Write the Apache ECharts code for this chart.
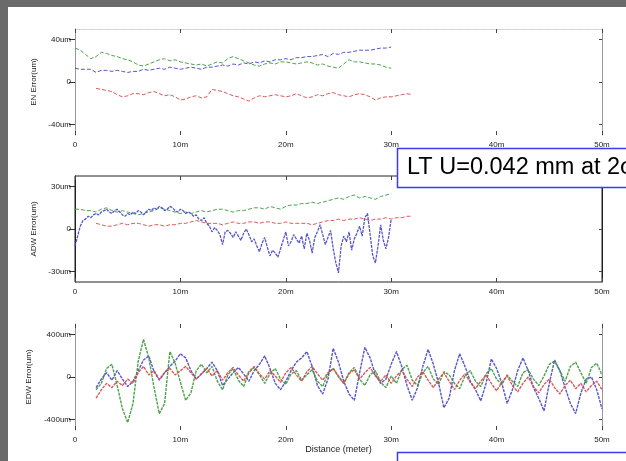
<!DOCTYPE html>
<html><head><meta charset="utf-8">
<script src="https://cdn.jsdelivr.net/npm/echarts@6/dist/echarts.min.js"></script>
<style>html,body{margin:0;padding:0;background:#fff}#c{width:626px;height:461px}</style>
</head><body><div id="c"></div>
<script>
// ---- data ----
const xTickLabels = ['0', '10m', '20m', '30m', '40m', '50m'];
const panelNames = ['EN Error(um)', 'ADW Error(um)', 'EDW Error(um)'];
const xAxisTitle = 'Distance (meter)';
const noteText = 'LT U=0.042 mm at 2\u03c3';

// Panel 1 (EN), sampled every 0.5 m
const enBlueStart = 0, enGreenStart = 0, enRedStart = 2, enStep = 0.5;
const enBlue = [13,12,12,12,9,11,11,10,11,10,9,10,10,12,11,12,13,12,14,13,12,13,14,13,12,14,14,15,16,15,17,16,18,17,19,18,20,19,21,21,22,21,23,23,24,24,25,26,24,27,26,28,28,29,30,30,30,31,32,32,33];
const enGreen = [32,30,26,22,24,28,27,25,24,22,21,19,16,15,17,19,21,22,20,21,19,18,17,16,17,15,17,19,18,22,24,22,20,18,16,15,17,18,17,19,19,18,17,18,19,18,16,17,15,14,13,17,21,19,19,18,17,17,16,14,13];
const enRed = [-6,-7,-8,-9,-12,-14,-13,-11,-11,-12,-10,-9,-11,-13,-12,-14,-17,-16,-14,-13,-15,-14,-7,-8,-9,-11,-13,-14,-16,-18,-15,-13,-14,-13,-12,-13,-14,-13,-11,-13,-15,-14,-12,-13,-11,-10,-12,-13,-14,-12,-11,-12,-14,-17,-15,-14,-14,-13,-12,-11,-12];

// Panel 2 (ADW)
const adwBlueStart = 0, adwBlueStep = 0.25;
const adwBlue = [-12,-5,2,6,7,9,8,10,11,10,12,13,14,12,11,13,14,12,10,9,11,10,12,11,13,12,10,12,14,13,15,14,16,15,13,14,16,15,13,12,14,13,11,12,11,9,10,7,6,8,4,2,-2,1,-1,-4,-11,-2,-1,-3,-6,-2,-5,-8,-3,0,-4,-9,-7,-12,-16,-10,-6,-13,-19,-15,-17,-20,-14,-8,-2,-12,-9,-4,-7,-10,-5,-14,-3,-8,-17,-6,-2,3,-4,-11,-6,-1,-14,-24,-31,-12,-5,-9,-2,-15,-7,-3,2,-5,8,11,-4,-19,-24,-12,3,-8,-14,-6,7];
const adwGreenStart = 0, adwRedStart = 2, adwStep = 0.5;
const adwGreen = [14,14,13,13,12,14,15,13,12,13,12,11,10,11,12,13,15,14,13,12,11,12,11,12,13,12,13,14,14,13,12,13,13,14,15,15,14,16,15,14,16,17,17,18,18,19,18,19,20,21,22,21,23,24,22,23,22,21,23,24,25];
const adwRed = [4,3,2,2,3,4,3,4,4,3,2,3,3,2,3,3,4,4,5,6,5,4,4,4,3,4,5,4,4,5,5,4,5,5,4,4,5,4,4,4,4,3,4,5,6,6,7,6,7,7,8,7,6,7,7,8,7,8,8,9,9];

// Panel 3 (EDW), sampled every 0.5 m from 2 m
const edwStart = 2, edwStep = 0.5;
const edwGreen = [-120,-60,80,120,-80,-300,-430,-250,150,355,180,-100,-345,-250,240,130,-50,-220,-150,60,120,40,100,-40,-120,20,80,-30,-90,40,90,20,-60,30,80,-20,-70,30,60,-30,20,70,-40,-90,30,80,10,-60,40,90,-20,-80,20,60,-50,-100,10,-60,70,110,-30,-80,40,100,-20,-70,50,20,-60,-110,10,60,-40,-90,30,80,-20,-70,20,-40,-90,40,70,-20,-80,10,120,150,60,-40,100,140,40,-60,90,130,20];
const edwBlue = [-100,-20,40,-30,60,-20,-90,-40,60,160,200,50,-30,40,100,150,220,180,60,-20,30,80,140,60,-80,-20,40,90,30,-40,60,120,200,80,-60,-120,-40,60,140,180,240,100,-80,-160,-20,270,140,-40,-160,-220,40,280,180,20,-60,-20,120,240,100,-80,-220,-100,100,260,120,-60,-290,-200,60,220,100,-40,-120,-225,-60,170,80,-60,-250,-120,60,180,60,-100,-200,-320,-60,160,60,-100,-250,-345,-150,-20,0,-120,-300];
const edwRed = [-200,-120,-60,-100,-40,-80,-20,-60,40,100,20,60,-20,40,80,20,60,100,40,-20,30,80,10,60,-30,40,90,20,-40,50,100,30,-20,60,10,-50,40,90,20,-40,50,100,30,-30,40,80,0,-60,30,70,-20,40,90,10,-40,20,-60,10,60,-20,-90,0,50,-30,-100,-20,40,-40,-120,-30,30,-50,-110,-40,20,-60,-130,-50,10,-80,-140,-60,0,-90,-150,-70,-20,-100,-160,-80,-30,-110,-60,-140,-80,-40,-120];

// panel axis settings
const yRanges = [[-50, 50], [-37.5, 37.5], [-500, 500]];
const yTickVals = [[-40, 0, 40], [-30, 0, 30], [-400, 0, 400]];
const yTickLabels = [['-40um', '0', '40um'], ['-30um', '0', '30um'], ['-400um', '0', '400um']];

const C_BLUE = '#4444c8', C_GREEN = '#3a983a', C_RED = '#d44848';

function pairs(start, step, vals) { return vals.map((v, i) => [start + i * step, v]); }

const tops = [29, 176, 324];
const grids = tops.map((t, i) => ({
  left: 75, right: 24, top: t, height: 106,
  show: i === 1, borderColor: '#222', borderWidth: 1, backgroundColor: 'transparent'
}));

const labelFont = { fontSize: 8, color: '#222', fontFamily: 'Liberation Sans' };
const xAxes = [], yAxes = [];
tops.forEach((t, i) => {
  xAxes.push({
    type: 'value', gridIndex: i, min: 0, max: 50, interval: 10, position: 'bottom',
    axisLine: { show: false, onZero: false },
    axisTick: { show: true, inside: true, length: 4, lineStyle: { color: '#444' } },
    axisLabel: Object.assign({ margin: 6, formatter: (v) => xTickLabels[Math.round(v / 10)] }, labelFont),
    splitLine: { show: false },
    name: i === 2 ? xAxisTitle : '', nameLocation: 'middle', nameGap: 14,
    nameTextStyle: { fontSize: 9, color: '#222', fontFamily: 'Liberation Sans' }
  });
  xAxes.push({
    type: 'value', gridIndex: i, min: 0, max: 50, interval: 10, position: 'top',
    axisLine: { show: i === 0, onZero: false, lineStyle: { color: '#ccc', type: 'dotted' } },
    axisTick: { show: true, inside: true, length: 4, lineStyle: { color: '#444' } },
    axisLabel: { show: false }, splitLine: { show: false }
  });
  const tv = yTickVals[i], tl = yTickLabels[i];
  yAxes.push({
    type: 'value', gridIndex: i, min: yRanges[i][0], max: yRanges[i][1], position: 'left',
    axisLine: { show: true, onZero: false, lineStyle: { color: i === 1 ? '#222' : '#999', width: 1 } },
    axisTick: { show: true, inside: false, length: 6, customValues: tv, lineStyle: { color: '#333' } },
    axisLabel: Object.assign({ margin: 4, customValues: tv, formatter: (v) => tl[tv.indexOf(v)] }, labelFont),
    splitLine: { show: false },
    name: panelNames[i], nameLocation: 'middle', nameGap: 35, nameRotate: 90,
    nameTextStyle: { fontSize: 8, color: '#222', fontFamily: 'Liberation Sans' }
  });
  yAxes.push({
    type: 'value', gridIndex: i, min: yRanges[i][0], max: yRanges[i][1], position: 'right',
    axisLine: { show: true, onZero: false, lineStyle: { color: i === 1 ? '#222' : '#999', width: 1 } },
    axisTick: { show: true, inside: true, length: 3, customValues: tv, lineStyle: { color: '#444' } },
    axisLabel: { show: false }, splitLine: { show: false }
  });
});

function line(gi, color, data, dash, w) {
  return {
    type: 'line', xAxisIndex: gi * 2, yAxisIndex: gi * 2, data: data,
    showSymbol: false, silent: true, animation: false,
    lineStyle: { color: color, width: w || 1, type: dash || [4, 2], opacity: 0.9 }
  };
}

const series = [
  line(0, C_GREEN, pairs(enGreenStart, enStep, enGreen)),
  line(0, C_BLUE, pairs(enBlueStart, enStep, enBlue)),
  line(0, C_RED, pairs(enRedStart, enStep, enRed)),
  line(1, C_GREEN, pairs(adwGreenStart, adwStep, adwGreen)),
  line(1, C_RED, pairs(adwRedStart, adwStep, adwRed)),
  line(1, C_BLUE, pairs(adwBlueStart, adwBlueStep, adwBlue), [3, 1], 1.3),
  line(2, C_BLUE, pairs(edwStart, edwStep, edwBlue), [3, 1], 1.4),
  line(2, C_GREEN, pairs(edwStart, edwStep, edwGreen), [3, 1], 1.4),
  line(2, C_RED, pairs(edwStart, edwStep, edwRed), [3, 1], 1.4)
];

const chart = echarts.init(document.getElementById('c'), null, { renderer: 'canvas' });
chart.setOption({
  animation: false,
  backgroundColor: '#ffffff',
  grid: grids, xAxis: xAxes, yAxis: yAxes, series: series,
  graphic: [
    { type: 'rect', z: 200, shape: { x: 0, y: 0, width: 626, height: 7 }, style: { fill: '#6a6a6a' } },
    { type: 'rect', z: 200, shape: { x: 0, y: 0, width: 8, height: 461 }, style: { fill: '#6a6a6a' } },
    { type: 'rect', z: 210, shape: { x: 397.5, y: 148.5, width: 260, height: 39 }, style: { fill: '#fff', stroke: '#3a3af5', lineWidth: 1.5 } },
    { type: 'text', z: 211, x: 407, y: 168, style: { text: noteText, fill: '#000', font: '23.5px "Liberation Sans"', verticalAlign: 'middle' } },
    { type: 'rect', z: 210, shape: { x: 397.5, y: 452.5, width: 260, height: 40 }, style: { fill: '#fff', stroke: '#3a3af5', lineWidth: 1.5 } }
  ]
});
</script></body></html>
